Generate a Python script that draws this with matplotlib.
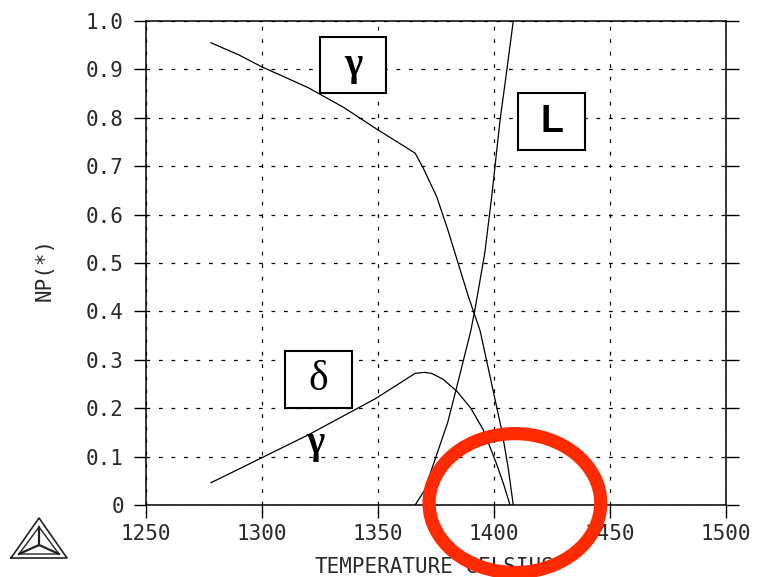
import numpy as np
import matplotlib
matplotlib.use("Agg")
import matplotlib.pyplot as plt
from matplotlib.patches import Ellipse, Rectangle

# gamma (upper branch, then falling to 0)
gam_T = [1278, 1290, 1300, 1308, 1320, 1335, 1349, 1360, 1366, 1369.5, 1375.3, 1380,
         1384.5, 1389, 1394, 1399, 1403.3, 1406, 1408.3]
gam_np = [0.955, 0.93, 0.905, 0.888, 0.862, 0.822, 0.778, 0.745, 0.727, 0.696, 0.637, 0.57,
          0.50, 0.43, 0.36, 0.25, 0.155, 0.08, 0.0]

# liquid
liq_T = [1366, 1370, 1375, 1380, 1384, 1390, 1392, 1396, 1399, 1402.6, 1405, 1408.3]
liq_np = [0.0, 0.03, 0.10, 0.17, 0.245, 0.36, 0.41, 0.52, 0.637, 0.795, 0.88, 1.0]

# delta
del_T = [1278, 1295, 1320, 1349, 1366, 1370, 1373, 1378, 1384, 1390, 1395.4, 1401, 1404, 1406.9]
del_np = [0.046, 0.086, 0.145, 0.22, 0.272, 0.274, 0.272, 0.26, 0.235, 0.20, 0.155, 0.086, 0.045, 0.0]

xticks = [1250, 1300, 1350, 1400, 1450, 1500]
yticks = [0, 0.1, 0.2, 0.3, 0.4, 0.5, 0.6, 0.7, 0.8, 0.9, 1.0]
ylabels = ["0", "0.1", "0.2", "0.3", "0.4", "0.5", "0.6", "0.7", "0.8", "0.9", "1.0"]

mono = "DejaVu Sans Mono"
serif = ["Liberation Serif", "DejaVu Serif"]
txtcol = "#2a2a2a"

fig = plt.figure(figsize=(7.62, 5.77), dpi=100)
ax = fig.add_axes([0.1916, 0.1248, 0.9528 - 0.1916, 0.9636 - 0.1248])

ax.plot(gam_T, gam_np, color="black", lw=0.9)
ax.plot(liq_T, liq_np, color="black", lw=0.9)
ax.plot(del_T, del_np, color="black", lw=0.9)

ax.set_xlim(1250, 1500)
ax.set_ylim(0, 1.0)
ax.set_xticks(xticks)
ax.set_xticklabels([str(t) for t in xticks], fontfamily=mono, fontsize=15, color=txtcol)
ax.set_yticks(yticks)
ax.set_yticklabels(ylabels, fontfamily=mono, fontsize=15, color=txtcol)
ax.tick_params(axis="both", direction="out", length=9, width=1.0)
ax.tick_params(axis="x", pad=5)
ax.tick_params(axis="y", pad=7, right=True)
ax.grid(True, linestyle=(0, (3, 7)), color="black", lw=0.9)
for s in ax.spines.values():
    s.set_linewidth(1.1)

ax.set_xlabel("TEMPERATURE_CELSIUS", fontfamily=mono, fontsize=15, color=txtcol)
ax.set_ylabel("NP(*)", fontfamily=mono, fontsize=15, color=txtcol)
ax.xaxis.set_label_coords(0.498, -0.105)
ax.yaxis.set_label_coords(-0.158, 0.486)

# phase label boxes
def box_label(x, y, w, h, txt, **kw):
    ax.add_patch(Rectangle((x, y), w, h, facecolor="white", edgecolor="black", lw=1.5, zorder=3))
    ax.text(x + w / 2, y + h / 2, txt, ha="center", va="center", zorder=4, **kw)

box_label(1325, 0.851, 28.4, 0.116, "γ", fontsize=28, fontfamily=serif, fontweight="bold")
box_label(1410.3, 0.733, 28.9, 0.118, "L", fontsize=27, fontfamily="Liberation Sans", fontweight="bold")
box_label(1309.9, 0.200, 28.9, 0.118, "δ", fontsize=30, fontfamily=serif)
ax.text(1322.8, 0.128, "γ", ha="center", va="center", fontsize=28,
        fontfamily=serif, fontweight="bold")

# red highlight ellipse
ax.add_patch(Ellipse((1409, 0.004), 74, 0.287, facecolor="none", edgecolor="#ff2a00",
                     lw=9.5, clip_on=False, zorder=5))

# logo (triangle) bottom-left, pixel coords -> figure coords
W, H = 762.0, 577.0
def fl(xs, ys, lw=1.0):
    fig.add_artist(plt.Line2D([x / W for x in xs], [1 - y / H for y in ys], color="#222222", lw=lw))

fl([11, 39, 67, 11], [558, 518, 558, 558], 1.2)
fl([19, 39, 59, 19], [554, 527, 554, 554], 1.0)
fl([39, 39], [527, 545], 1.6)
fl([39, 19], [545, 554], 1.6)
fl([39, 59], [545, 554], 1.6)

fig.savefig("out.png", dpi=100)
